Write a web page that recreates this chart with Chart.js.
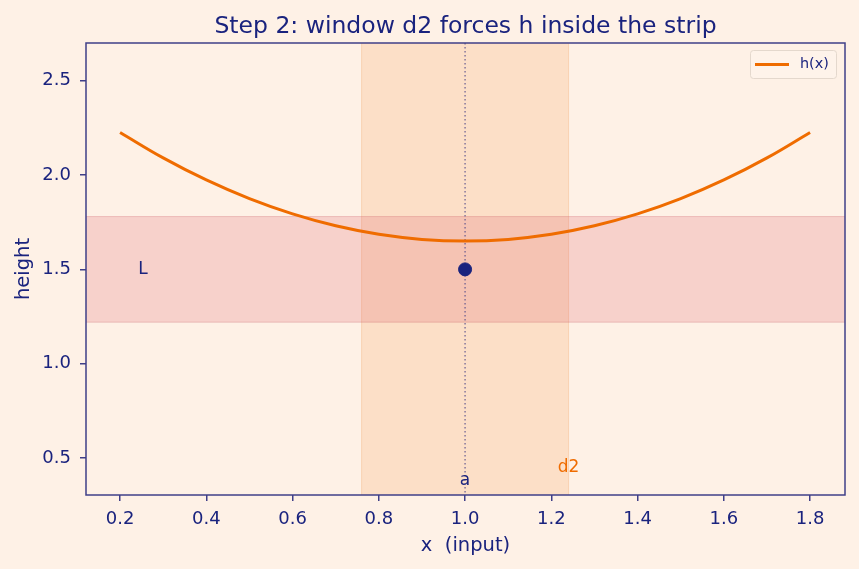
<!DOCTYPE html>
<html>
<head>
<meta charset="utf-8">
<script src="https://cdn.jsdelivr.net/npm/chart.js@4.4.1/dist/chart.umd.min.js"></script>
<style>
  html, body { margin: 0; padding: 0; background: #fef1e6; }
  #chart { display: block; }
</style>
</head>
<body>
<canvas id="chart" width="859" height="569"></canvas>
<script>
  "use strict";

  // data
  const xVals = [0.2, 0.3, 0.4, 0.5, 0.6, 0.7, 0.8, 0.9, 1.0, 1.1, 1.2, 1.3, 1.4, 1.5, 1.6, 1.7, 1.8];
  const hVals = [2.226, 2.091, 1.974, 1.875, 1.794, 1.731, 1.686, 1.659, 1.650, 1.659, 1.686, 1.731, 1.794, 1.875, 1.974, 2.091, 2.226];
  const pointA = [1.0];
  const pointL = [1.5];
  const stripY = [1.22, 1.78];   // L +/- eps
  const windowX = [0.76, 1.24];  // a +/- d2
  const xTicks = [0.2, 0.4, 0.6, 0.8, 1.0, 1.2, 1.4, 1.6, 1.8];
  const yTicks = [0.5, 1.0, 1.5, 2.0, 2.5];
  const xRange = [0.121, 1.881];
  const yRange = [0.304, 2.70];

  const NAVY = "#1a237e";
  const ORANGE = "#ef6c00";
  const SPINE = "#3f3f88";
  const FONT = "'DejaVu Sans', sans-serif";

  const decor = {
    id: "decor",
    beforeDraw(chart) {
      const ctx = chart.ctx;
      ctx.save();
      ctx.fillStyle = "#fef1e6";
      ctx.fillRect(0, 0, chart.width, chart.height);
      ctx.restore();
    },
    beforeDatasetsDraw(chart) {
      const { ctx, chartArea: ca, scales } = chart;
      const x = scales.x, y = scales.y;
      ctx.save();
      ctx.beginPath();
      ctx.rect(ca.left, ca.top, ca.right - ca.left, ca.bottom - ca.top);
      ctx.clip();

      // window around a
      const wx0 = x.getPixelForValue(windowX[0]);
      const wx1 = x.getPixelForValue(windowX[1]);
      ctx.fillStyle = "rgba(246, 160, 90, 0.22)";
      ctx.fillRect(wx0, ca.top, wx1 - wx0, ca.bottom - ca.top);
      ctx.strokeStyle = "rgba(240, 150, 80, 0.25)";
      ctx.lineWidth = 1;
      ctx.beginPath();
      ctx.moveTo(wx0, ca.top); ctx.lineTo(wx0, ca.bottom);
      ctx.moveTo(wx1, ca.top); ctx.lineTo(wx1, ca.bottom);
      ctx.stroke();

      // strip around L
      const sy0 = y.getPixelForValue(stripY[1]);
      const sy1 = y.getPixelForValue(stripY[0]);
      ctx.fillStyle = "rgba(222, 95, 110, 0.22)";
      ctx.fillRect(ca.left, sy0, ca.right - ca.left, sy1 - sy0);
      ctx.strokeStyle = "rgba(200, 90, 100, 0.28)";
      ctx.beginPath();
      ctx.moveTo(ca.left, sy0); ctx.lineTo(ca.right, sy0);
      ctx.moveTo(ca.left, sy1); ctx.lineTo(ca.right, sy1);
      ctx.stroke();

      // dotted line at a
      const ax = x.getPixelForValue(pointA[0]);
      ctx.strokeStyle = "rgba(90, 80, 140, 0.85)";
      ctx.lineWidth = 1.3;
      ctx.setLineDash([1.5, 2.5]);
      ctx.beginPath();
      ctx.moveTo(ax, ca.top); ctx.lineTo(ax, ca.bottom);
      ctx.stroke();
      ctx.restore();
    },
    afterDraw(chart) {
      const { ctx, chartArea: ca, scales } = chart;
      const x = scales.x, y = scales.y;
      ctx.save();

      // spines
      ctx.strokeStyle = SPINE;
      ctx.lineWidth = 1.5;
      ctx.strokeRect(ca.left, ca.top, ca.right - ca.left, ca.bottom - ca.top);

      // annotations
      ctx.textAlign = "center";
      ctx.textBaseline = "middle";
      ctx.font = "17px " + FONT;
      ctx.fillStyle = NAVY;
      ctx.fillText("L", x.getPixelForValue(0.253), y.getPixelForValue(pointL[0]));
      ctx.fillText("a", x.getPixelForValue(pointA[0]), y.getPixelForValue(0.378));
      ctx.fillStyle = ORANGE;
      ctx.fillText("d2", x.getPixelForValue(windowX[1]), y.getPixelForValue(0.452));

      // title
      ctx.fillStyle = NAVY;
      ctx.font = "23.5px " + FONT;
      ctx.textBaseline = "alphabetic";
      ctx.fillText("Step 2: window d2 forces h inside the strip", (ca.left + ca.right) / 2, 33);

      // axis titles
      ctx.font = "19.5px " + FONT;
      ctx.textBaseline = "middle";
      ctx.fillText("x  (input)", (ca.left + ca.right) / 2, 546);
      ctx.save();
      ctx.translate(24, (ca.top + ca.bottom) / 2);
      ctx.rotate(-Math.PI / 2);
      ctx.fillText("height", 0, 0);
      ctx.restore();

      // legend
      const lx = 750, ly = 50, lw = 86, lh = 28;
      ctx.fillStyle = "rgba(254, 243, 234, 0.85)";
      ctx.strokeStyle = "#e4d8cd";
      ctx.lineWidth = 1;
      ctx.beginPath();
      ctx.roundRect(lx + 0.5, ly + 0.5, lw, lh, 3);
      ctx.fill();
      ctx.stroke();
      ctx.strokeStyle = ORANGE;
      ctx.lineWidth = 3;
      ctx.beginPath();
      ctx.moveTo(755, ly + 14.5);
      ctx.lineTo(789, ly + 14.5);
      ctx.stroke();
      ctx.fillStyle = NAVY;
      ctx.font = "14.4px " + FONT;
      ctx.textAlign = "left";
      ctx.fillText("h(x)", 800, ly + 14.5);
      ctx.restore();
    }
  };

  const tickStyle = { color: NAVY, font: { family: FONT, size: 18 } };
  const gridStyle = {
    display: true,
    drawOnChartArea: false,
    drawTicks: true,
    tickLength: 6,
    color: SPINE,
    lineWidth: 1.5
  };

  new Chart(document.getElementById("chart"), {
    type: "scatter",
    data: {
      datasets: [
        {
          label: "h(x)",
          data: xVals.map((v, i) => ({ x: v, y: hVals[i] })),
          showLine: true,
          borderColor: ORANGE,
          borderWidth: 3,
          pointRadius: 0,
          tension: 0.4,
          order: 2
        },
        {
          label: "point",
          data: pointA.map((v, i) => ({ x: v, y: pointL[i] })),
          pointRadius: 6.5,
          pointBackgroundColor: NAVY,
          pointBorderColor: NAVY,
          order: 1
        }
      ]
    },
    options: {
      responsive: false,
      animation: false,
      devicePixelRatio: 1,
      layout: { padding: { top: 43, right: 14, left: 0, bottom: 0 } },
      plugins: {
        legend: { display: false },
        title: { display: false },
        tooltip: { enabled: false }
      },
      scales: {
        x: {
          type: "linear",
          min: xRange[0],
          max: xRange[1],
          afterBuildTicks: (axis) => { axis.ticks = xTicks.map((v) => ({ value: v })); },
          afterFit: (scale) => { scale.height = 74; },
          ticks: Object.assign({ padding: 8, callback: (v) => v.toFixed(1), maxRotation: 0 }, tickStyle),
          grid: gridStyle,
          border: { display: false }
        },
        y: {
          type: "linear",
          min: yRange[0],
          max: yRange[1],
          afterBuildTicks: (axis) => { axis.ticks = yTicks.map((v) => ({ value: v })); },
          afterFit: (scale) => { scale.width = 86; },
          ticks: Object.assign({ padding: 9, callback: (v) => v.toFixed(1) }, tickStyle),
          grid: gridStyle,
          border: { display: false }
        }
      }
    },
    plugins: [decor]
  });
</script>
</body>
</html>
